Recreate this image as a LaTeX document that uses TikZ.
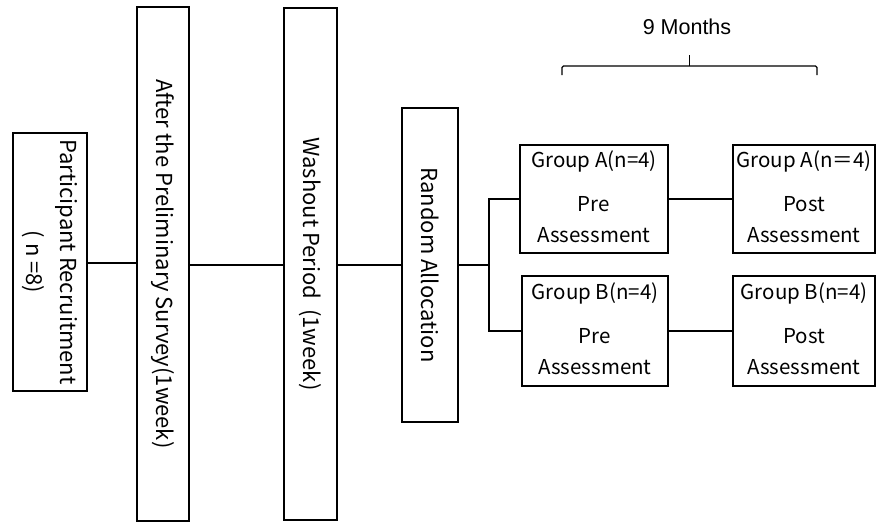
\documentclass[tikz,border=0pt]{standalone}
\usepackage{fontspec}
\newfontfamily\jp{Noto Sans CJK JP}
\newfontfamily\arial{Liberation Sans}
\begin{document}
\begin{tikzpicture}[x=1pt,y=-1pt,
  box/.style={draw=black, line width=1.6pt, inner sep=0pt},
  vtext/.style={rotate=-90, font=\jp\fontsize{22}{34}\selectfont, align=center, inner sep=0pt},
  gtext/.style={font=\jp\fontsize{20.5}{31}\selectfont, align=center, inner sep=0pt},
  conn/.style={line width=1.6pt}]
\useasboundingbox (0,0) rectangle (877,522);
% boxes
\node[box, minimum width=74pt, minimum height=258pt] (pr) at (50,262) {};
\node[vtext] at (pr) {Participant Recruitment\\( n =8)};
\node[box, minimum width=52pt, minimum height=514pt] (ps) at (163,264) {};
\node[vtext] at (ps) {After the Preliminary Survey(1week)};
\node[box, minimum width=53pt, minimum height=512pt] (wp) at (310.5,264) {};
\node[vtext] at (wp) {Washout Period\ \ (1week)};
\node[box, minimum width=56pt, minimum height=314pt] (ra) at (430,265) {};
\node[vtext] at (ra) {Random Allocation};
\node[box, minimum width=148pt, minimum height=108pt] (ap) at (594,199) {};
\node[gtext] at (594,161) {Group A(n=4)};
\node[gtext] at (594,220) {Pre\\Assessment};
\node[box, minimum width=142pt, minimum height=108pt] (aq) at (804,199) {};
\node[gtext] at (804,161) {Group A(n＝4)};
\node[gtext] at (804,220) {Post\\Assessment};
\node[box, minimum width=146pt, minimum height=110pt] (bp) at (595,331) {};
\node[gtext] at (595,293) {Group B(n=4)};
\node[gtext] at (595,352) {Pre\\Assessment};
\node[box, minimum width=142pt, minimum height=110pt] (bq) at (804,331) {};
\node[gtext] at (804,293) {Group B(n=4)};
\node[gtext] at (804,352) {Post\\Assessment};
% connectors
\draw[line width=2.4pt] (pr.east |- 0,263) -- (ps.west |- 0,263);
\draw[conn] (ps.east |- 0,265) -- (wp.west |- 0,265);
\draw[conn] (wp.east |- 0,265) -- (ra.west |- 0,265);
\coordinate (br) at (489,265);
\draw[conn] (ra.east |- br) -- (br);
\draw[conn] (ap.west) -| (br) |- (bp.west);
\draw[conn] (ap.east) -- (aq.west);
\draw[conn] (bp.east) -- (bq.west);
% brace
\coordinate (b1) at (562,75);
\coordinate (b2) at (817,75);
\draw[line width=1.2pt, rounded corners=1.5pt] (b1) -- (562,66) -- (817,66) -- (b2);
\draw[line width=1.2pt] (689.5,66) -- (689.5,55);
\node[font=\arial\fontsize{21.5}{24}\selectfont] (nm) at (687,27) {9 Months};
\end{tikzpicture}
\end{document}
